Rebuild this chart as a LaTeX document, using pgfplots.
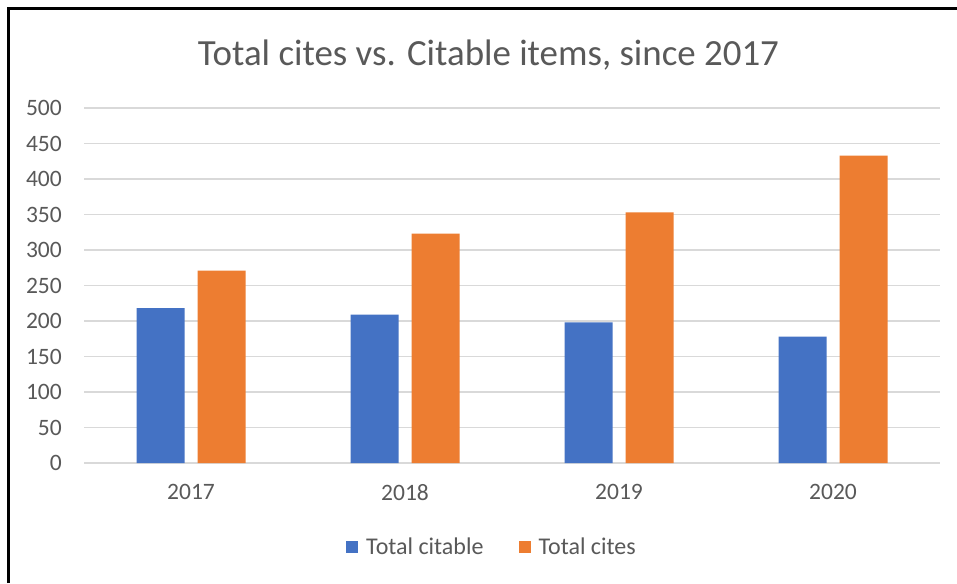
\documentclass[border=0pt]{standalone}
\usepackage{pgfplots}
\pgfplotsset{compat=1.18}
\usepackage{fontspec}
\setmainfont{Carlito}
\definecolor{cblue}{HTML}{4472C4}
\definecolor{corange}{HTML}{ED7D31}
\definecolor{cgrid}{HTML}{D9D9D9}
\definecolor{ctext}{HTML}{595959}
\begin{document}
\begin{tikzpicture}[x=1pt,y=1pt]
\useasboundingbox (0,0) rectangle (957,583);
\fill[white] (0,0) rectangle (957,583);
\draw[line width=3pt,black] (8,0) -- (8,574) -- (957,574);
\node[anchor=base,text=ctext,font=\fontsize{36.9}{40}\selectfont,inner sep=0pt] at (488.5,517.3) {Total cites vs. Citable items, since 2017};
\begin{axis}[
  at={(84pt,120pt)}, anchor=south west,
  scale only axis, width=856pt, height=355pt,
  xmin=-0.5, xmax=3.5, ymin=0, ymax=500,
  xtick={0,1,2,3}, xticklabels={2017,2018,2019,2020},
  ytick={0,50,...,500},
  ymajorgrids, grid style={cgrid,line width=1.5pt},
  axis line style={draw=none},
  major tick length=0pt,
  /pgf/number format/assume math mode=true,
  tick label style={font=\fontsize{23.5}{26}\selectfont,text=ctext,inner sep=0pt},
  yticklabel style={anchor=east,xshift=-22pt},
  xticklabel style={anchor=north,yshift=-21pt},
  legend columns=2,
  legend style={at={(0.4766,-0.2366)},anchor=center,draw=none,fill=none,
    font=\fontsize{24}{26}\selectfont,text=ctext,
    /tikz/every odd column/.append style={column sep=6pt},
    /tikz/every even column/.append style={column sep=33pt},
    inner sep=0pt},
  legend image code/.code={\fill[#1] (0pt,-6pt) rectangle (12pt,6pt);},
]
\addplot[ybar,bar width=48pt,bar shift=-30.5pt,fill=cblue,draw=none] coordinates {(0,218) (1,209) (2,198) (3,178)};
\addlegendentry{Total citable}
\addplot[ybar,bar width=48pt,bar shift=30.5pt,fill=corange,draw=none] coordinates {(0,271) (1,323) (2,353) (3,433)};
\addlegendentry{Total cites}
\end{axis}
\end{tikzpicture}
\end{document}
